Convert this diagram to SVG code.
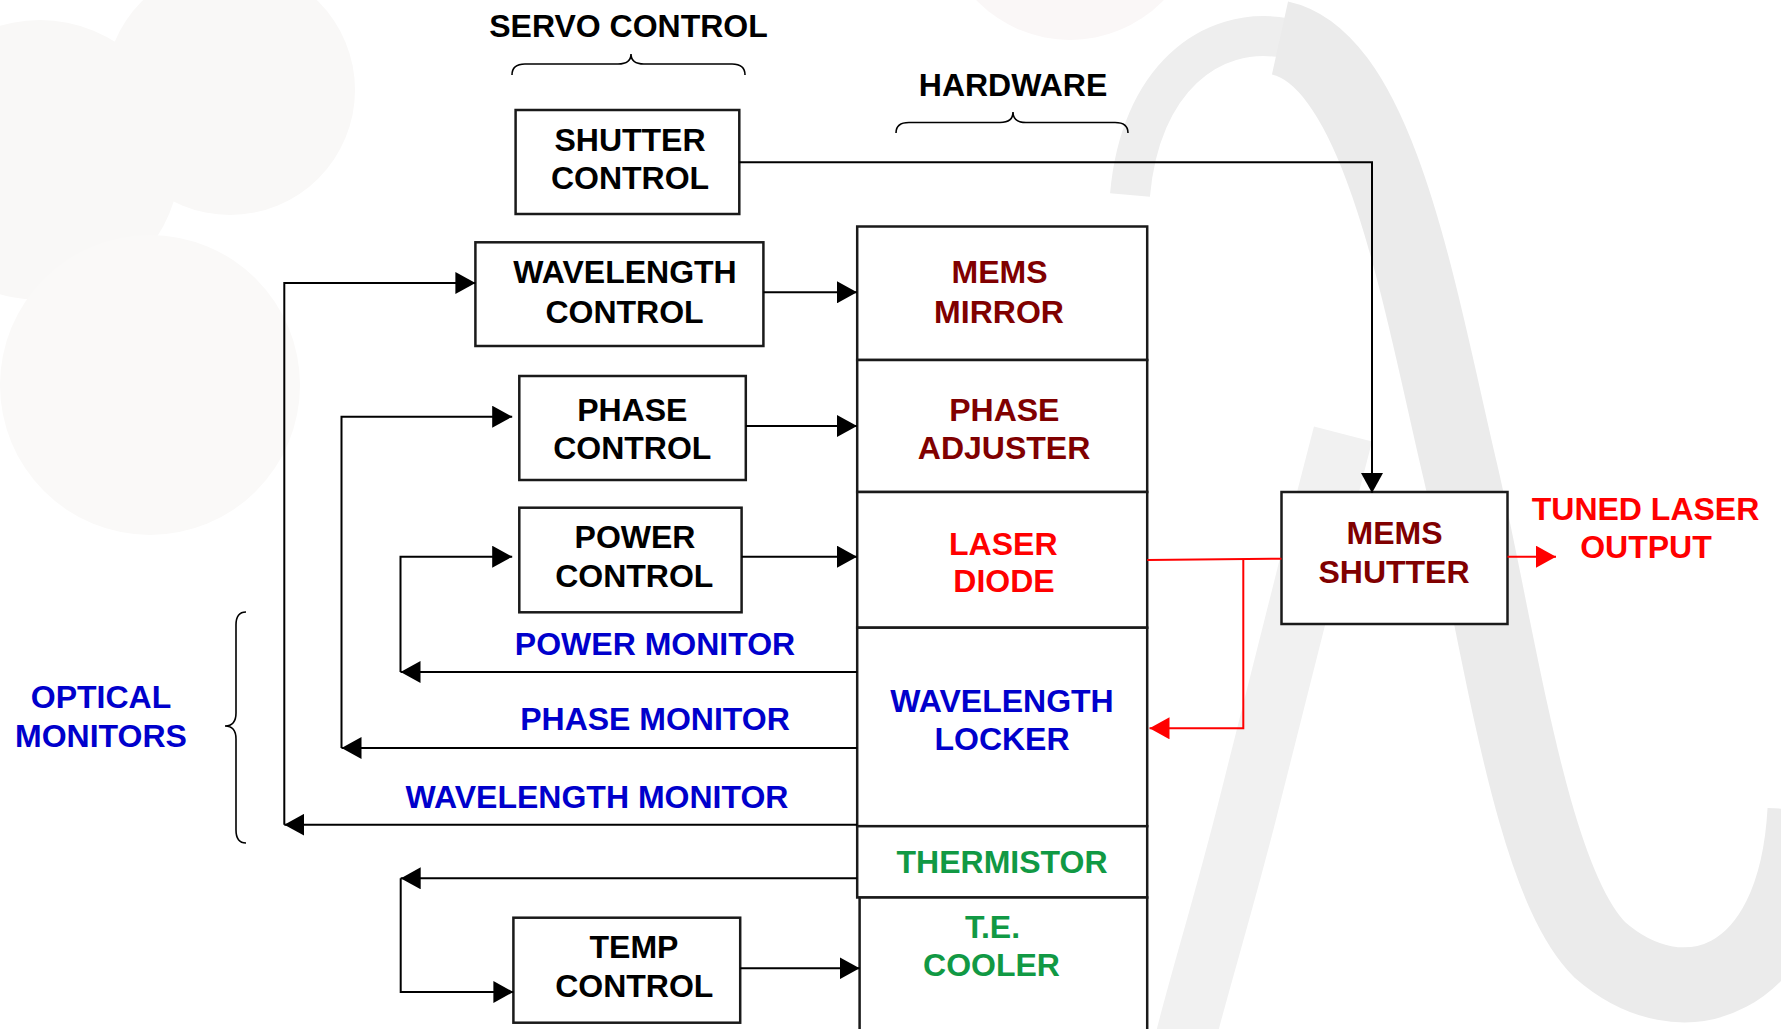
<svg xmlns="http://www.w3.org/2000/svg" width="1781" height="1029" viewBox="0 0 1781 1029">
<style>
  text { font-family: "Liberation Sans", Arial, sans-serif; font-weight: bold; font-size: 32px; text-anchor: middle; }
  .blk { fill: #000000; }
  .dred { fill: #800000; }
  .red { fill: #ff0000; }
  .blue { fill: #0000cc; }
  .green { fill: #119944; }
  .box { fill: #ffffff; stroke: #1a1a1a; stroke-width: 2.5; }
  .ln { fill: none; stroke: #000000; stroke-width: 2; }
  .rln { fill: none; stroke: #ff0000; stroke-width: 2; }
  .brace { fill: none; stroke: #000000; stroke-width: 1.6; }
</style>
<defs>
  <marker id="ah" markerUnits="userSpaceOnUse" markerWidth="20" markerHeight="22" refX="20" refY="11" orient="auto">
    <path d="M0,0 L20,11 L0,22 Z" fill="#000000"/>
  </marker>
  <marker id="ahr" markerUnits="userSpaceOnUse" markerWidth="20" markerHeight="22" refX="20" refY="11" orient="auto">
    <path d="M0,0 L20,11 L0,22 Z" fill="#ff0000"/>
  </marker>
</defs>
<rect width="1781" height="1029" fill="#ffffff"/>
<g id="watermark">
  <circle cx="40" cy="160" r="140" fill="#f9f8f7"/>
  <circle cx="230" cy="90" r="125" fill="#f9f8f7"/>
  <circle cx="150" cy="385" r="150" fill="#faf9f8"/>
  <circle cx="1070" cy="-90" r="130" fill="#faf7f7"/>
  <path d="M1343,434 C1310,560 1270,720 1250,800 C1225,900 1200,980 1185,1040" fill="none" stroke="#f1f1f1" stroke-width="60"/>
  <path d="M1130,195 C1140,80 1210,25 1285,38" fill="none" stroke="#eeeeee" stroke-width="40"/>
  <path d="M1280,38 C1380,60 1420,300 1460,470 C1500,640 1530,880 1600,950 C1680,1020 1795,990 1805,810" fill="none" stroke="#ebebeb" stroke-width="75"/>
</g>
<g id="braces">
  <path class="brace" d="M512,75 Q512,64 525,64 L618,64 Q631,64 631,54 Q631,64 644,64 L732,64 Q745,64 745,75"/>
  <path class="brace" d="M896,133 Q896,122.5 909,122.5 L1000,122.5 Q1013,122.5 1013,112 Q1013,122.5 1026,122.5 L1115,122.5 Q1128,122.5 1128,133"/>
  <path class="brace" d="M246,612 Q236,612 236,625 L236,713 Q236,726 225,726 Q236,726 236,739 L236,830 Q236,843 246,843"/>
</g>
<g id="labels">
  <text class="blk" x="628.5" y="37">SERVO CONTROL</text>
  <text class="blk" x="1013" y="95.5">HARDWARE</text>
  <text class="blue" x="101" y="708.3">OPTICAL</text>
  <text class="blue" x="101" y="746.7">MONITORS</text>
  <text class="blue" x="655" y="654.5">POWER MONITOR</text>
  <text class="blue" x="655" y="730">PHASE MONITOR</text>
  <text class="blue" x="597" y="808.3">WAVELENGTH MONITOR</text>
  <text class="red" x="1645.5" y="520">TUNED LASER</text>
  <text class="red" x="1646" y="558.3">OUTPUT</text>
</g>
<g id="shutter-control">
  <rect class="box" x="515.6" y="110" width="223.7" height="104"/>
  <text class="blk" x="630" y="151">SHUTTER</text>
  <text class="blk" x="630" y="188.5">CONTROL</text>
</g>
<g id="wavelength-control">
  <rect class="box" x="475.4" y="242.3" width="288" height="103.7"/>
  <text class="blk" x="625" y="282.7">WAVELENGTH</text>
  <text class="blk" x="624.5" y="322.7">CONTROL</text>
</g>
<g id="phase-control">
  <rect class="box" x="519.3" y="376" width="226.5" height="104"/>
  <text class="blk" x="632.3" y="421">PHASE</text>
  <text class="blk" x="632.3" y="459">CONTROL</text>
</g>
<g id="power-control">
  <rect class="box" x="519.3" y="507.7" width="222.3" height="104.6"/>
  <text class="blk" x="635" y="548.3">POWER</text>
  <text class="blk" x="634.3" y="586.7">CONTROL</text>
</g>
<g id="temp-control">
  <rect class="box" x="513.4" y="917.7" width="226.8" height="105"/>
  <text class="blk" x="634" y="958.3">TEMP</text>
  <text class="blk" x="634.3" y="996.7">CONTROL</text>
</g>
<g id="mems-mirror">
  <rect class="box" x="857.2" y="226.5" width="290" height="133.5"/>
  <text class="dred" x="999.5" y="282.7">MEMS</text>
  <text class="dred" x="999" y="322.7">MIRROR</text>
</g>
<g id="phase-adjuster">
  <rect class="box" x="857.2" y="360" width="290" height="132"/>
  <text class="dred" x="1004.3" y="421">PHASE</text>
  <text class="dred" x="1004" y="459">ADJUSTER</text>
</g>
<g id="laser-diode">
  <rect class="box" x="857.2" y="492" width="290" height="135.7"/>
  <text class="red" x="1003.3" y="555">LASER</text>
  <text class="red" x="1004" y="592.3">DIODE</text>
</g>
<g id="wavelength-locker">
  <rect class="box" x="857.2" y="627.7" width="290" height="198.5"/>
  <text class="blue" x="1002" y="711.7">WAVELENGTH</text>
  <text class="blue" x="1002" y="750">LOCKER</text>
</g>
<g id="thermistor">
  <rect class="box" x="857.2" y="826.2" width="290" height="71.3"/>
  <text class="green" x="1002" y="872.7">THERMISTOR</text>
</g>
<g id="te-cooler">
  <rect class="box" x="859.6" y="897.5" width="287.6" height="145"/>
  <text class="green" x="992.5" y="938.3">T.E.</text>
  <text class="green" x="991.5" y="976">COOLER</text>
</g>
<g id="mems-shutter">
  <rect class="box" x="1281.5" y="492" width="226" height="132"/>
  <text class="dred" x="1394.5" y="544.3">MEMS</text>
  <text class="dred" x="1394" y="582.7">SHUTTER</text>
</g>
<g id="connectors">
  <path class="ln" d="M739.3,162.3 H1372 V493" marker-end="url(#ah)"/>
  <path class="ln" d="M763.4,292.3 H857" marker-end="url(#ah)"/>
  <path class="ln" d="M745.8,426 H857" marker-end="url(#ah)"/>
  <path class="ln" d="M741.6,556.7 H857" marker-end="url(#ah)"/>
  <path class="ln" d="M740.2,968.3 H859.6" marker-end="url(#ah)"/>
  <path class="ln" d="M857.2,824.7 H284.3" marker-end="url(#ah)"/>
  <path class="ln" d="M284.3,824.7 V283 H475.4" marker-end="url(#ah)"/>
  <path class="ln" d="M857.2,748 H341.5" marker-end="url(#ah)"/>
  <path class="ln" d="M341.5,748 V416.7 H512.2" marker-end="url(#ah)"/>
  <path class="ln" d="M857.2,672 H400.5" marker-end="url(#ah)"/>
  <path class="ln" d="M400.5,672 V556.7 H512.2" marker-end="url(#ah)"/>
  <path class="ln" d="M857.2,878.3 H400.7" marker-end="url(#ah)"/>
  <path class="ln" d="M400.7,878.3 V992 H513.4" marker-end="url(#ah)"/>
  <path class="rln" d="M1147.2,560 L1281.5,558.7"/>
  <path class="rln" d="M1243.3,559.3 V728.3 H1149.5" marker-end="url(#ahr)"/>
  <path class="rln" d="M1507.5,556.7 H1556" marker-end="url(#ahr)"/>
</g>
</svg>
